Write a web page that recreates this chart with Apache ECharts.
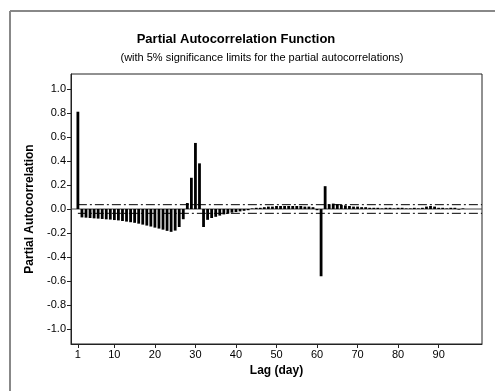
<!DOCTYPE html>
<html>
<head>
<meta charset="utf-8">
<script src="https://cdn.jsdelivr.net/npm/echarts@6/dist/echarts.min.js"></script>
<style>html,body{margin:0;padding:0;background:#fff}#c{width:495px;height:391px}</style>
</head>
<body>
<div id="c"></div>
<script>
// Lags and partial autocorrelations
const lags = [];
for (let i = 1; i <= 96; i++) lags.push(i);
const pacf = [
  0.81, -0.070, -0.072, -0.075, -0.078, -0.080, -0.083, -0.086, -0.088, -0.092,
  -0.095, -0.100, -0.105, -0.110, -0.115, -0.122, -0.130, -0.138, -0.146, -0.155,
  -0.163, -0.172, -0.182, -0.190, -0.180, -0.150, -0.085, 0.050, 0.260, 0.550,
  0.380, -0.150, -0.090, -0.075, -0.065, -0.055, -0.045, -0.040, -0.030, -0.025,
  -0.020, -0.015, -0.010, 0.005, 0.010, 0.010, 0.015, 0.020, 0.020, 0.025,
  0.025, 0.025, 0.025, 0.025, 0.025, 0.025, 0.020, 0.020, 0.015, -0.010,
  -0.560, 0.190, 0.040, 0.045, 0.040, 0.035, 0.030, 0.025, 0.020, 0.020,
  0.015, 0.015, 0.010, 0.010, 0.010, 0.005, 0.010, 0.010, 0.005, 0.010,
  0.010, 0.005, 0.005, 0.010, 0.005, 0.010, 0.020, 0.025, 0.020, 0.010,
  0.010, 0.005, 0.010, 0.010, -0.005, 0.005
];
const sigLimit = 0.036;
const xTickLabels = [1, 10, 20, 30, 40, 50, 60, 70, 80, 90];
const yTicks = [-1.0, -0.8, -0.6, -0.4, -0.2, 0.0, 0.2, 0.4, 0.6, 0.8, 1.0];
const xMin = -0.7, xMax = 100.7, yMin = -1.124, yMax = 1.124;

const font = 'Liberation Sans, Arial, sans-serif';
const chart = echarts.init(document.getElementById('c'), null, {renderer: 'canvas'});
chart.setOption({
  animation: false,
  backgroundColor: '#fff',
  title: [
    {text: 'Partial Autocorrelation Function', left: 231, top: 28, textAlign: 'center',
     textStyle: {fontFamily: font, fontSize: 13, fontWeight: 'bold', color: '#000'}},
    {text: '(with 5% significance limits for the partial autocorrelations)', left: 257, top: 47, textAlign: 'center',
     textStyle: {fontFamily: font, fontSize: 11, fontWeight: 'normal', color: '#000'}}
  ],
  graphic: [
    {type: 'line', shape: {x1: 10, y1: 11, x2: 495, y2: 11}, style: {stroke: '#888', lineWidth: 2}},
    {type: 'line', shape: {x1: 10, y1: 11, x2: 10, y2: 391}, style: {stroke: '#888', lineWidth: 2}}
  ],
  grid: {left: 71, right: 13, top: 74, bottom: 47, show: true, borderColor: '#222', borderWidth: 1, backgroundColor: '#fff'},
  xAxis: {
    type: 'value', min: xMin, max: xMax,
    name: 'Lag (day)', nameLocation: 'middle', nameGap: 20,
    nameTextStyle: {fontFamily: font, fontSize: 12, fontWeight: 'bold', color: '#000'},
    axisLine: {show: true, onZero: false, lineStyle: {color: '#222'}},
    axisTick: {show: true, customValues: xTickLabels, length: 4, lineStyle: {color: '#222'}},
    axisLabel: {customValues: xTickLabels, fontFamily: font, fontSize: 11, color: '#000', margin: 5},
    splitLine: {show: false}
  },
  yAxis: {
    type: 'value', min: yMin, max: yMax,
    name: 'Partial Autocorrelation', nameLocation: 'middle', nameGap: 35,
    nameTextStyle: {fontFamily: font, fontSize: 12, fontWeight: 'bold', color: '#000'},
    axisLine: {show: true, onZero: false, lineStyle: {color: '#222'}},
    axisTick: {show: true, customValues: yTicks, length: 4, lineStyle: {color: '#222'}},
    axisLabel: {customValues: yTicks, fontFamily: font, fontSize: 11, color: '#000', margin: 5,
      formatter: v => v.toFixed(1)},
    splitLine: {show: false}
  },
  series: [
    {type: 'line', data: [[xMin, 0], [xMax, 0]], symbol: 'none', silent: true,
     lineStyle: {color: '#444', width: 1}, z: 1},
    {type: 'line', data: [[1, sigLimit], [xMax, sigLimit]], symbol: 'none', silent: true,
     lineStyle: {color: '#000', width: 1, type: [9, 3, 2, 3]}, z: 1},
    {type: 'line', data: [[1, -sigLimit], [xMax, -sigLimit]], symbol: 'none', silent: true,
     lineStyle: {color: '#000', width: 1, type: [9, 3, 2, 3]}, z: 1},
    {type: 'bar', data: lags.map((l, i) => [l, pacf[i]]), barWidth: 2.8,
     itemStyle: {color: '#000'}, z: 3}
  ]
});
</script>
</body>
</html>
